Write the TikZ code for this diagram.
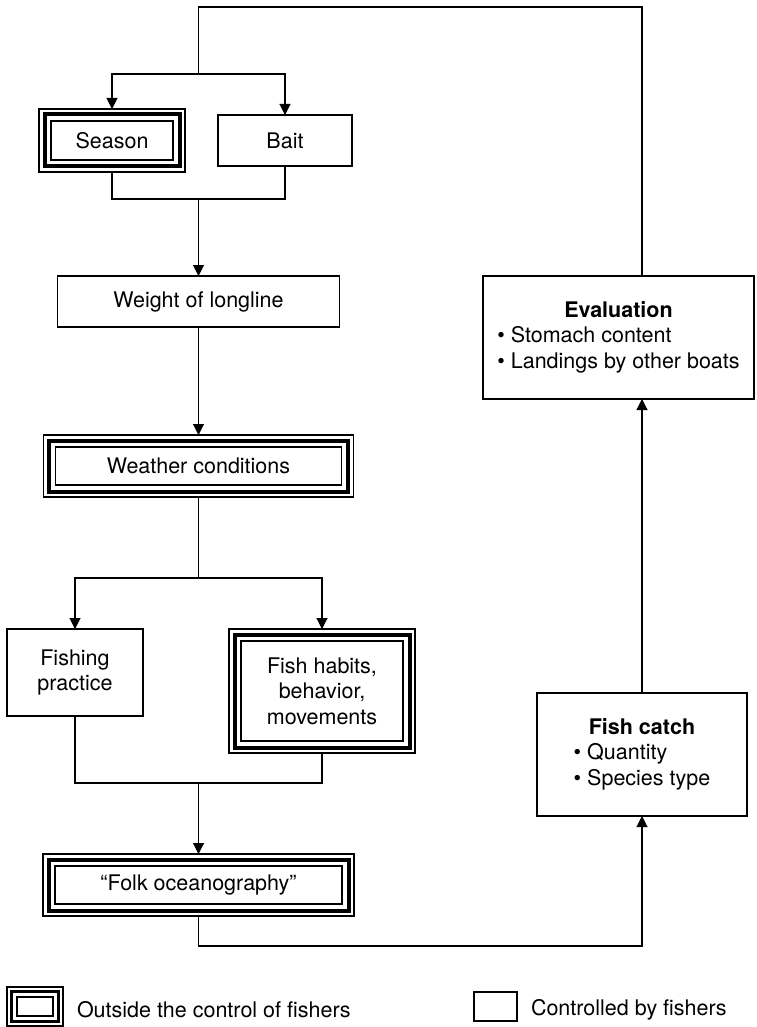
\documentclass[tikz,border=0pt]{standalone}
\usepackage{fontspec}
\setmainfont{TeX Gyre Heros}
\usetikzlibrary{arrows.meta,calc}

% thick middle frame and thin inner frame inside a drawn node
\newcommand\tripleframe[4]{% node, thick offset, thick width, inner offset
  \draw[line width=#3] ($(#1.north west)+(#2,#2)$) rectangle ($(#1.south east)+(-#2,-#2)$);
  \draw ($(#1.north west)+(#4,#4)$) rectangle ($(#1.south east)+(-#4,-#4)$);}

\begin{document}
\begin{tikzpicture}[x=1pt,y=-1pt,
  line width=1.1pt,
  every node/.style={font=\fontsize{21.5}{25.5}\selectfont, inner sep=0pt, outer sep=0pt},
  box/.style={draw, rectangle, align=center},
  arr/.style={-{Triangle[width=11pt,length=11pt]}},
  legtext/.style={anchor=west},
]
\useasboundingbox (0,0) rectangle (756,1027);

% boxes
\node[box, minimum width=146pt, minimum height=63pt] (season) at (112,140.5) {Season};
\node[box, minimum width=134pt, minimum height=51pt] (bait) at (285,140.5) {Bait};
\node[box, minimum width=282pt, minimum height=51pt] (weight) at (198.5,301.5) {Weight of longline};
\node[box, minimum width=310pt, minimum height=62pt] (weather) at (198.5,466) {Weather conditions};
\node[box, minimum width=136pt, minimum height=87pt] (fishing) at (75,672.5) {Fishing\\practice};
\node[box, minimum width=186pt, minimum height=124pt] (habits) at (322,691) {Fish habits,\\behavior,\\movements};
\node[box, minimum width=311pt, minimum height=62pt] (folk) at (198.5,885) {“Folk oceanography”};
\node[box, minimum width=271pt, minimum height=123pt] (eval) at (618.5,337.5)
  {\begin{tabular}{@{}l@{}}\multicolumn{1}{@{}c@{}}{\bfseries Evaluation}\\ • Stomach content\\ • Landings by other boats\end{tabular}};
\node[box, minimum width=210pt, minimum height=123pt] (catch) at (642,754.5)
  {\begin{tabular}{@{}l@{}}\multicolumn{1}{@{}c@{}}{\bfseries Fish catch}\\ • Quantity\\ • Species type\end{tabular}};

\tripleframe{season}{5.5}{4pt}{12}
\tripleframe{weather}{5.5}{4pt}{12}
\tripleframe{habits}{5.5}{4pt}{12}
\tripleframe{folk}{5.5}{4pt}{12}

% junction points
\coordinate (tl) at (198.5,7);
\coordinate (sp1) at (198.5,74);
\coordinate (m1) at (198.5,199);
\coordinate (sp2) at (198.5,578);
\coordinate (m2) at (198.5,783);
\coordinate (bt) at (198.5,946);

% connectors
\draw (eval.north -| catch.north) |- (tl) -- (sp1);
\draw[arr] (sp1) -| (season.north);
\draw[arr] (sp1) -| (bait.north);
\draw (season.south) |- (m1);
\draw (bait.south) |- (m1);
\draw[arr] (m1) -- (weight.north);
\draw[arr] (weight.south) -- (weather.north);
\draw (weather.south) -- (sp2);
\draw[arr] (sp2) -| (fishing.north);
\draw[arr] (sp2) -| (habits.north);
\draw (fishing.south) |- (m2);
\draw (habits.south) |- (m2);
\draw[arr] (m2) -- (folk.north);
\draw[arr] (folk.south) -- (bt) -| (catch.south);
\draw[arr] (catch.north) -- (eval.south -| catch.north);

% legend
\node[draw, minimum width=56pt, minimum height=39pt] (legA) at (35,1006.5) {};
\tripleframe{legA}{4.5}{3.5pt}{10}
\node[legtext] (legAt) at (77,1010) {Outside the control of fishers};
\node[draw, minimum width=43pt, minimum height=29pt] (legB) at (495.5,1006.5) {};
\node[legtext] (legBt) at (531,1010) {Controlled by fishers};
\end{tikzpicture}
\end{document}
